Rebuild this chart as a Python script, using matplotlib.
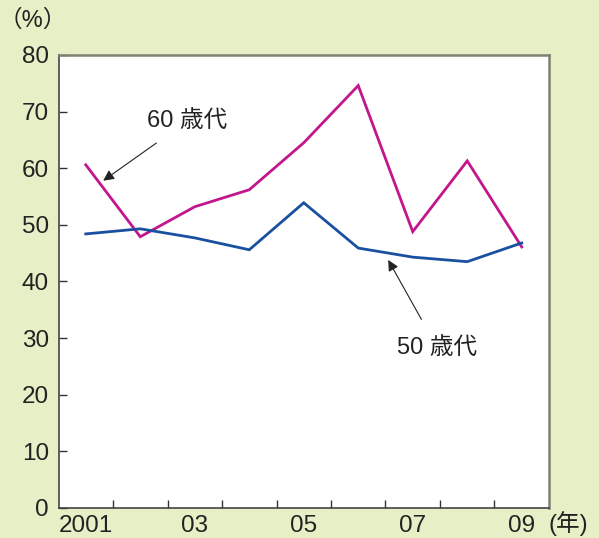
#!/usr/bin/env python

import matplotlib
matplotlib.use('Agg')
import matplotlib.pyplot as plt

YEARS = [2001, 2002, 2003, 2004, 2005, 2006, 2007, 2008, 2009]
XLABELS = ['2001', '03', '05', '07', '09']
AGE60 = [60.6, 47.9, 53.2, 56.2, 64.5, 74.6, 48.8, 61.3, 46.1]
AGE50 = [48.4, 49.3, 47.7, 45.6, 53.9, 45.9, 44.3, 43.5, 46.8]

BG = '#e6efc5'
FONT = ['Liberation Sans', 'Noto Sans CJK JP']


def main() -> None:
    plt.rcParams['font.family'] = FONT
    fig = plt.figure(figsize=(5.99, 5.38), dpi=100, facecolor=BG)
    ax = fig.add_axes([0.0977, 0.0558, 0.8188, 0.842])

    ax.plot(YEARS, AGE60, color='#c4168c', lw=2.0, solid_joinstyle='miter')
    ax.plot(YEARS, AGE50, color='#1a50a0', lw=2.0, solid_joinstyle='miter')

    ax.set_xlim(2000.5, 2009.5)
    ax.set_ylim(0, 80)
    ax.set_yticks(range(0, 81, 10))
    ax.set_xticks([2001, 2003, 2005, 2007, 2009], XLABELS)
    ax.set_xticks([y + 0.5 for y in YEARS[:-1]], minor=True)

    ax.tick_params(axis='y', direction='in', length=6, width=1, color='#333333',
                   labelsize=17.5, pad=7, labelcolor='#222222')
    ax.tick_params(axis='x', which='major', length=0, labelsize=17.5, pad=5,
                   labelcolor='#222222')
    ax.tick_params(axis='x', which='minor', direction='in', length=6, width=1,
                   color='#333333')

    for side in ['left', 'bottom']:
        ax.spines[side].set_color('#444444')
        ax.spines[side].set_linewidth(1.2)
    for side in ['top', 'right']:
        ax.spines[side].set_color('#808070')
        ax.spines[side].set_linewidth(1.8)

    ax.annotate('60 歳代', xy=(2001.32, 57.8), xytext=(2002.86, 68.3),
                fontsize=17, ha='center', va='center', color='#222222',
                arrowprops=dict(arrowstyle='-|>', color='#222222', lw=0.8,
                                shrinkA=10, shrinkB=0, mutation_scale=16))
    ax.annotate('50 歳代', xy=(2006.55, 43.8), xytext=(2007.45, 28.3),
                fontsize=17, ha='center', va='center', color='#222222',
                arrowprops=dict(arrowstyle='-|>', color='#222222', lw=0.8,
                                shrinkA=12, shrinkB=0, mutation_scale=16))

    fig.text(0.055, 0.962, '（%）', fontsize=17, ha='center', va='center',
             color='#222222')
    fig.text(0.948, 0.026, '(年)', fontsize=17, ha='center', va='center',
             color='#222222')

    fig.savefig('out.png', dpi=100, facecolor=BG)


if __name__ == '__main__':
    main()
